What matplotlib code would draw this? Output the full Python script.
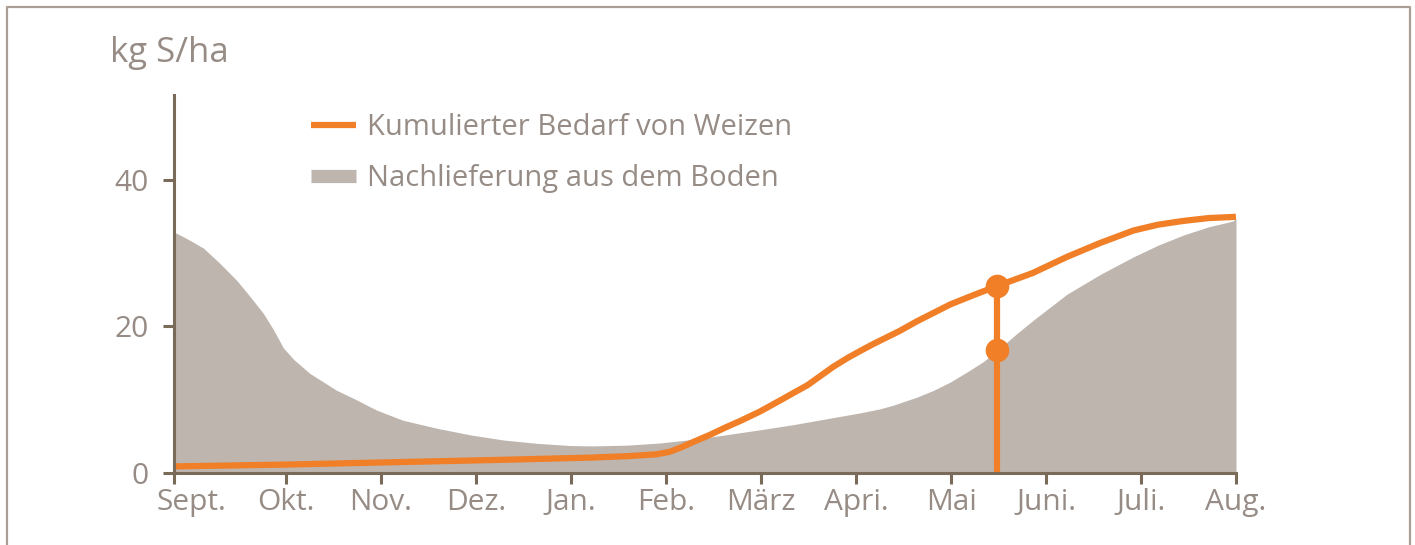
import matplotlib
matplotlib.use("Agg")
import matplotlib.pyplot as plt
from matplotlib.lines import Line2D
import matplotlib.transforms as mtransforms

# ---- data ----
months = ["Sept.", "Okt.", "Nov.", "Dez.", "Jan.", "Feb.", "März", "Apri.",
          "Mai", "Juni.", "Juli.", "Aug."]
month_pos = [-0.18, 1, 2, 3, 4, 5, 6, 7, 8, 9, 10, 11]
yticks = [0, 20, 40]

supply_x = [-0.18, -0.045, 0.13, 0.305, 0.48, 0.62, 0.76, 0.87, 0.97, 1.08,
            1.25, 1.53, 1.74, 1.95, 2.23, 2.59, 2.94, 3.29, 3.64, 3.99,
            4.23, 4.59, 4.94, 5.29, 5.57, 5.99, 6.34, 6.69, 7.04, 7.25,
            7.39, 7.64, 7.81, 7.99, 8.17, 8.34, 8.52, 8.69, 8.87, 9.04,
            9.22, 9.57, 9.92, 10.18, 10.45, 10.71, 10.97, 11.0]
supply_y = [32.9, 32.0, 30.7, 28.6, 26.3, 24.1, 21.8, 19.5, 17.1, 15.5,
            13.6, 11.3, 10.0, 8.6, 7.2, 6.1, 5.2, 4.5, 4.05, 3.75,
            3.7, 3.8, 4.1, 4.6, 5.1, 5.9, 6.6, 7.4, 8.2, 8.75,
            9.25, 10.35, 11.25, 12.4, 13.8, 15.2, 17.1, 19.0, 20.9, 22.6,
            24.4, 27.1, 29.5, 31.1, 32.5, 33.6, 34.4, 34.8]

demand_x = [-0.18, 1.0, 1.88, 3.28, 4.2, 4.6, 4.9, 5.04, 5.16, 5.28, 5.46,
            5.64, 5.78, 5.99, 6.13, 6.31, 6.49, 6.62, 6.76, 6.91, 7.05, 7.18,
            7.46, 7.64, 7.99, 8.24, 8.48, 8.86, 9.22, 9.57, 9.92, 10.18,
            10.44, 10.71, 10.97, 11.0]
demand_y = [0.9, 1.15, 1.4, 1.8, 2.1, 2.3, 2.55, 2.9, 3.5, 4.2, 5.2,
            6.3, 7.1, 8.4, 9.4, 10.7, 12.0, 13.2, 14.5, 15.7, 16.7, 17.6,
            19.4, 20.7, 23.0, 24.3, 25.5, 27.3, 29.5, 31.4, 33.1, 33.9,
            34.4, 34.8, 34.95, 35.0]

marker_x = 8.48
marker_y = [16.8, 25.5]

legend_labels = ["Kumulierter Bedarf von Weizen", "Nachlieferung aus dem Boden"]
y_title = "kg S/ha"

# ---- style ----
W, H = 1415, 545
ORANGE = "#F07F27"
GRAY = "#BEB5AF"
AXIS = "#7A6A5A"
TEXT = "#968C85"
BORDER = "#A99F97"
plt.rcParams["font.family"] = ["Open Sans", "DejaVu Sans"]

fig = plt.figure(figsize=(W / 100, H / 100), dpi=100)
ax = fig.add_axes([174 / W, 72 / H, (1236 - 174) / W, 378 / H])

ax.fill_between(supply_x, 0, supply_y, color=GRAY, lw=0, zorder=1)
ax.plot(demand_x, demand_y, color=ORANGE, lw=4.5, zorder=3,
        solid_capstyle="butt", solid_joinstyle="round")
ax.plot([marker_x, marker_x], [0, marker_y[1]], color=ORANGE, lw=4.5,
        zorder=3, solid_capstyle="butt")
ax.plot([marker_x] * 2, marker_y, "o", color=ORANGE, ms=17, mew=0, zorder=4)

ax.set_xlim(month_pos[0], month_pos[-1])
ax.set_ylim(0, 51.6)
for s in ["top", "right"]:
    ax.spines[s].set_visible(False)
for s in ["left", "bottom"]:
    ax.spines[s].set_color(AXIS)
    ax.spines[s].set_linewidth(2.2)
    ax.spines[s].set_zorder(5)

ax.set_xticks(month_pos, months)
ax.set_yticks(yticks)
ax.tick_params(axis="both", direction="out", length=8, width=2.2, color=AXIS,
               labelcolor=TEXT, labelsize=21.5)
ax.tick_params(axis="x", pad=3)
ax.tick_params(axis="y", pad=10)

# shift the first month label slightly right as in the reference
lbl = ax.get_xticklabels()[0]
lbl.set_transform(lbl.get_transform() +
                  mtransforms.ScaledTranslation(17 / 100, 0, fig.dpi_scale_trans))

fig.text(110 / W, 1 - 62 / H, y_title, fontsize=25, color=TEXT,
         va="baseline", ha="left")

handles = [Line2D([], [], color=ORANGE, lw=4.5, solid_capstyle="butt"),
           Line2D([], [], color=GRAY, lw=9.5, solid_capstyle="butt")]
fig.legend(handles, legend_labels, loc="upper left",
           bbox_to_anchor=(311 / W, 1 - 113 / H), frameon=False, fontsize=21,
           handlelength=1.55, handletextpad=0.38, labelspacing=0.76,
           borderaxespad=0, borderpad=0, labelcolor=TEXT)

# frame around the figure (open at the bottom)
fig.add_artist(Line2D([7 / W, 7 / W, 1410 / W, 1410 / W],
                      [0, 1 - 7 / H, 1 - 7 / H, 0],
                      transform=fig.transFigure, color=BORDER, lw=1.6))

fig.savefig("out.png", dpi=100)
